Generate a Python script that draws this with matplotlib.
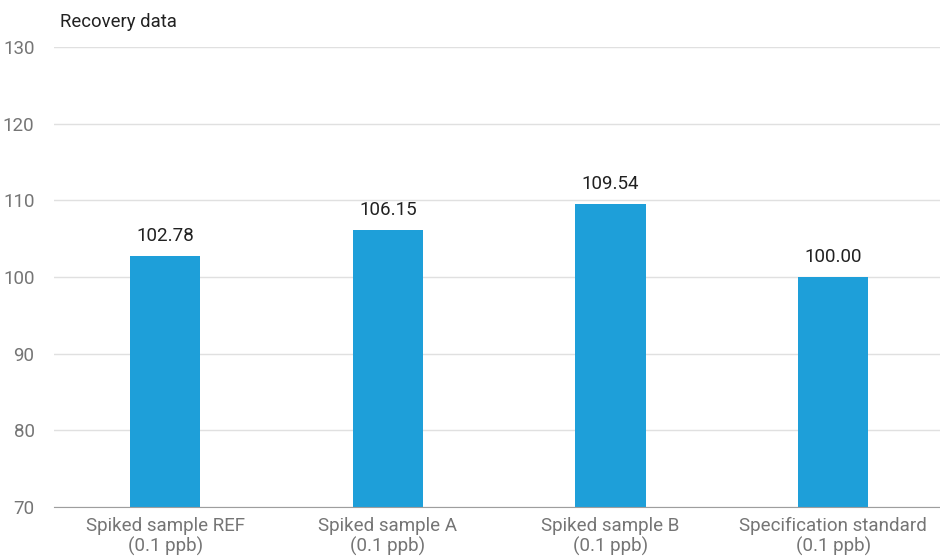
import matplotlib.pyplot as plt

plt.rcParams['font.family'] = ['Roboto', 'DejaVu Sans']

categories = ['Spiked sample REF\n(0.1 ppb)', 'Spiked sample A\n(0.1 ppb)',
              'Spiked sample B\n(0.1 ppb)', 'Specification standard\n(0.1 ppb)']
recovery = [102.78, 106.15, 109.54, 100.00]
yticks = [70, 80, 90, 100, 110, 120, 130]

fig = plt.figure(figsize=(9.4, 5.57), dpi=100)
ax = fig.add_axes([0.0574, 0.0898, 0.9426, 0.8258])

x = range(len(categories))
bars = ax.bar(x, recovery, width=0.315, color='#1e9fd9', zorder=3)

for xi, v in zip(x, recovery):
    ax.annotate(f'{v:.2f}', (xi, v), xytext=(0, 8), textcoords='offset points',
                ha='center', va='bottom', fontsize=13.5, color='#212121')

ax.set_xlim(-0.5, len(categories) - 0.52)
ax.set_ylim(70, 130)
ax.set_yticks(yticks)
ax.set_xticks(list(x))
ax.set_xticklabels(categories, fontsize=13.5, color='#757575', linespacing=1.15)
ax.tick_params(axis='y', labelsize=13.5, labelcolor='#757575', length=0, pad=14)
ax.tick_params(axis='x', length=0, pad=7)

ax.yaxis.grid(True, color='#e0e0e0', linewidth=1, zorder=0)
for s in ['top', 'right', 'left']:
    ax.spines[s].set_visible(False)
ax.spines['bottom'].set_color('#9e9e9e')
ax.spines['bottom'].set_zorder(4)

fig.text(60 / 940, 1 - 22 / 557, 'Recovery data', fontsize=13.3, color='#212121',
         ha='left', va='center')

fig.savefig('out.png', dpi=100)
